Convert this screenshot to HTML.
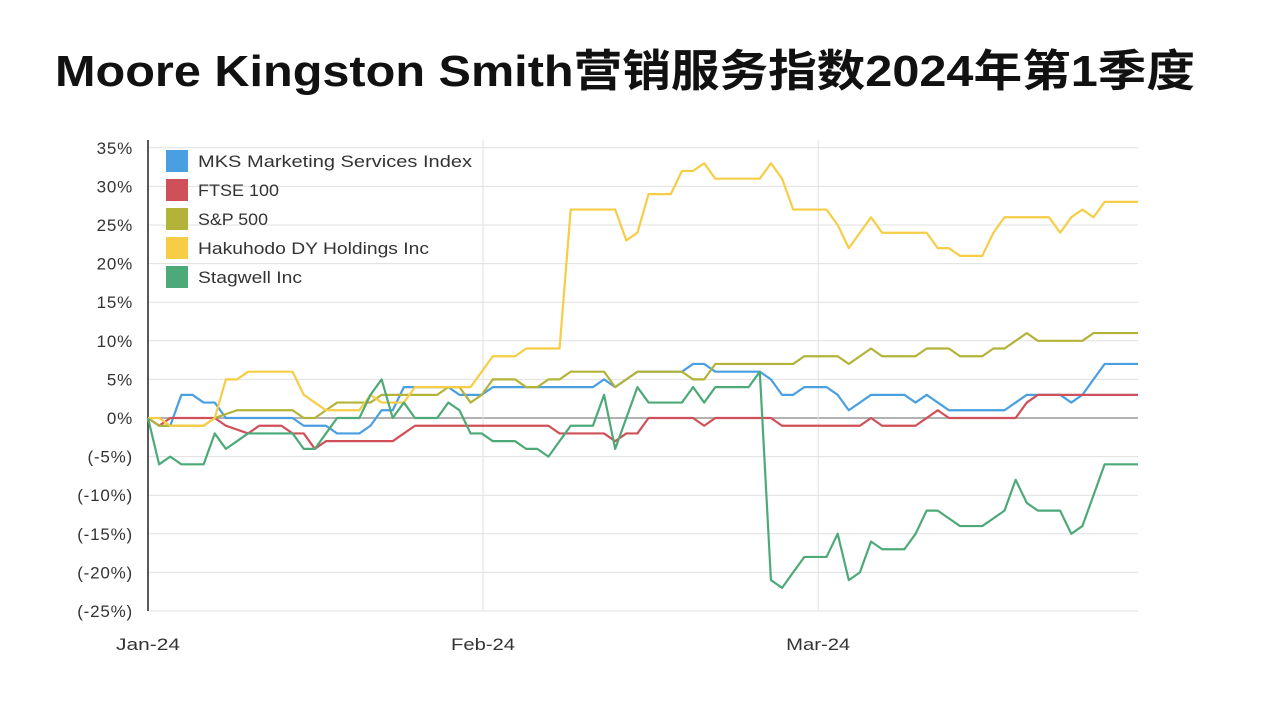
<!DOCTYPE html>
<html><head><meta charset="utf-8"><style>
html,body{margin:0;padding:0;background:#fff;}
svg{display:block;font-family:"Liberation Sans","Noto Sans CJK SC",sans-serif;}
</style></head><body>
<svg id="chart" width="1267" height="701" xmlns="http://www.w3.org/2000/svg">
<text x="55" y="86" font-size="44" font-weight="bold" fill="#111" textLength="1140" lengthAdjust="spacingAndGlyphs">Moore Kingston Smith营销服务指数2024年第1季度</text>
<g id="grid"></g><g id="lines"></g><g id="legend"></g>
</svg>
<script>
const seriesNames=["MKS Marketing Services Index","FTSE 100","S&P 500","Hakuhodo DY Holdings Inc","Stagwell Inc"];
const legendWidths=[274,81,70,231,104];
const seriesColors=["#4a9fe0","#d0505a","#b3b33a","#f6cd45","#4daa78"];
const mks=[0,-1,-1,3,3,2,2,0,0,0,0,0,0,0,-1,-1,-1,-2,-2,-2,-1,1,1,4,4,4,4,4,3,3,3,4,4,4,4,4,4,4,4,4,4,5,4,5,6,6,6,6,6,7,7,6,6,6,6,6,5,3,3,4,4,4,3,1,2,3,3,3,3,2,3,2,1,1,1,1,1,1,2,3,3,3,3,2,3,5,7,7,7,7];
const ftse=[0,-1,0,0,0,0,0,-1,-1.5,-2,-1,-1,-1,-2,-2,-4,-3,-3,-3,-3,-3,-3,-3,-2,-1,-1,-1,-1,-1,-1,-1,-1,-1,-1,-1,-1,-1,-2,-2,-2,-2,-2,-3,-2,-2,0,0,0,0,0,-1,0,0,0,0,0,0,-1,-1,-1,-1,-1,-1,-1,-1,0,-1,-1,-1,-1,0,1,0,0,0,0,0,0,0,2,3,3,3,3,3,3,3,3,3,3];
const sp500=[0,-1,-1,-1,-1,-1,0,0.5,1,1,1,1,1,1,0,0,1,2,2,2,2,3,3,3,3,3,3,4,4,2,3,5,5,5,4,4,5,5,6,6,6,6,4,5,6,6,6,6,6,5,5,7,7,7,7,7,7,7,7,8,8,8,8,7,8,9,8,8,8,8,9,9,9,8,8,8,9,9,10,11,10,10,10,10,10,11,11,11,11,11];
const hakuhodo=[0,0,-1,-1,-1,-1,0,5,5,6,6,6,6,6,3,2,1,1,1,1,3,2,2,2,4,4,4,4,4,4,6,8,8,8,9,9,9,9,27,27,27,27,27,23,24,29,29,29,32,32,33,31,31,31,31,31,33,31,27,27,27,27,25,22,24,26,24,24,24,24,24,22,22,21,21,21,24,26,26,26,26,26,24,26,27,26,28,28,28,28];
const stagwell=[0,-6,-5,-6,-6,-6,-2,-4,-3,-2,-2,-2,-2,-2,-4,-4,-2,0,0,0,3,5,0,2,0,0,0,2,1,-2,-2,-3,-3,-3,-4,-4,-5,-3,-1,-1,-1,3,-4,0,4,2,2,2,2,4,2,4,4,4,4,6,-21,-22,-20,-18,-18,-18,-15,-21,-20,-16,-17,-17,-17,-15,-12,-12,-13,-14,-14,-14,-13,-12,-8,-11,-12,-12,-12,-15,-14,-10,-6,-6,-6,-6];
const yTicks=[35,30,25,20,15,10,5,0,-5,-10,-15,-20,-25];
const yTickLabels=["35%","30%","25%","20%","15%","10%","5%","0%","(-5%)","(-10%)","(-15%)","(-20%)","(-25%)"];
const xTickLabels=["Jan-24","Feb-24","Mar-24"];
const xTickIdx=[0,30.12,60.25];
const allSeries=[mks,ftse,sp500,hakuhodo,stagwell];
const NS="http://www.w3.org/2000/svg";
const X0=148,X1=1138,Y0=418,PX=7.72;
const xs=i=>X0+(X1-X0)*i/(mks.length-1);
const ys=v=>Y0-v*PX;
function mk(tag,attrs,parent){const e=document.createElementNS(NS,tag);for(const k in attrs)e.setAttribute(k,attrs[k]);parent.appendChild(e);return e;}
const grid=document.getElementById('grid');
yTicks.forEach((t,k)=>{
  const l=mk('line',{x1:X0,x2:X1,y1:ys(t),y2:ys(t),stroke:t===0?'#999':'#e0e0e0','stroke-width':t===0?1.5:1},grid);
  
  
  const tx=mk('text',{x:133,y:ys(t)+6,'text-anchor':'end','font-size':17,'letter-spacing':0.8,fill:'#333'},grid);
  tx.textContent=yTickLabels[k];
  
  
});
xTickIdx.forEach((ix,k)=>{
  const x=xs(ix);
  if(k>0){const l=mk('line',{x1:x,x2:x,y1:140,y2:611,stroke:'#e0e0e0'},grid);
  
  }
  const tx=mk('text',{x:x-32,y:650,'font-size':17,fill:'#333',textLength:64,lengthAdjust:'spacingAndGlyphs'},grid);
  tx.textContent=xTickLabels[k];
  
  
});
const ax=mk('line',{x1:X0,x2:X0,y1:140,y2:611,stroke:'#222','stroke-width':1.5},grid);


const lines=document.getElementById('lines');
allSeries.forEach((s,k)=>{
  const p=mk('polyline',{points:s.map((v,i)=>xs(i)+','+ys(v)).join(' '),fill:'none',stroke:seriesColors[k],'stroke-width':2.2,'stroke-linejoin':'round'},lines);
  
  
});
const lg=document.getElementById('legend');
seriesNames.forEach((n,k)=>{
  const y=161+k*29;
  const r=mk('rect',{x:166,y:y-11,width:22,height:22,fill:seriesColors[k]},lg);
  
  
  const t=mk('text',{x:198,y:y+6,'font-size':17,fill:'#333',textLength:legendWidths[k],lengthAdjust:'spacingAndGlyphs'},lg);
  t.textContent=n;
  
  
});
</script>
</body></html>
